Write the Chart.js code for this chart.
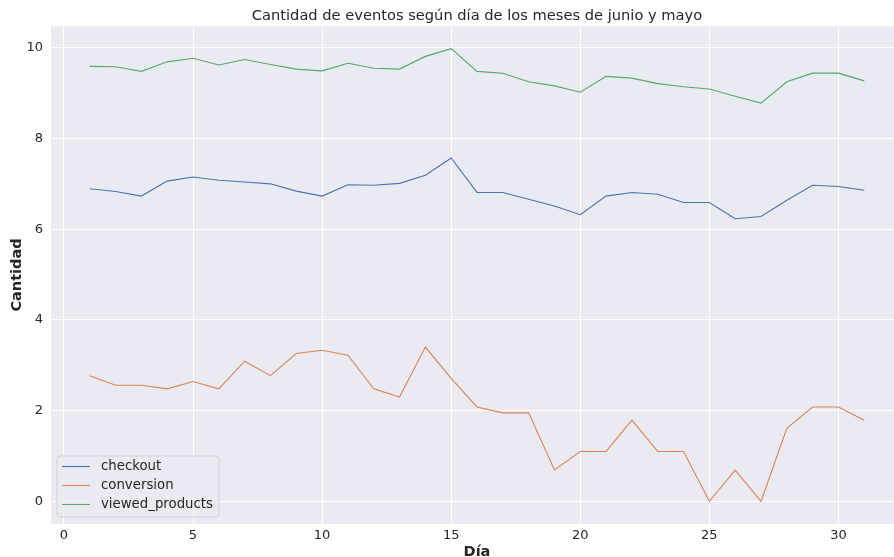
<!DOCTYPE html>
<html>
<head>
<meta charset="utf-8">
<script src="https://cdn.jsdelivr.net/npm/chart.js@4"></script>
<style>
html,body{margin:0;padding:0;background:#fff;overflow:hidden;}
#wrap{width:903px;height:557px;position:relative;}
</style>
</head>
<body>
<div id="wrap"><canvas id="c" width="903" height="557"></canvas></div>
<script>
const chartTitle = "Cantidad de eventos según día de los meses de junio y mayo";
const xTitle = "Día";
const yTitle = "Cantidad";
const days = [1,2,3,4,5,6,7,8,9,10,11,12,13,14,15,16,17,18,19,20,21,22,23,24,25,26,27,28,29,30,31];
const seriesNames = ["checkout","conversion","viewed_products"];
const checkout = [6.89,6.83,6.73,7.06,7.15,7.08,7.04,7.00,6.84,6.73,6.98,6.97,7.01,7.19,7.57,6.81,6.81,6.66,6.51,6.32,6.73,6.81,6.77,6.59,6.59,6.23,6.28,6.64,6.97,6.94,6.86];
const conversion = [2.77,2.56,2.56,2.48,2.64,2.48,3.09,2.77,3.26,3.33,3.22,2.48,2.30,3.40,2.71,2.08,1.95,1.95,0.69,1.10,1.10,1.79,1.10,1.10,0.00,0.69,0.00,1.61,2.08,2.08,1.79];
const viewed = [9.59,9.58,9.48,9.69,9.77,9.62,9.74,9.63,9.53,9.49,9.66,9.55,9.53,9.81,9.98,9.48,9.44,9.25,9.16,9.02,9.37,9.33,9.21,9.14,9.09,8.93,8.78,9.25,9.44,9.44,9.27];
const xTicks = [0,5,10,15,20,25,30];
const yTicks = [0,2,4,6,8,10];
const colors = ["#4c72b0","#dd8452","#55a868"];

const allSeries = [checkout, conversion, viewed];
const datasets = allSeries.map((vals,i)=>({
  label: seriesNames[i],
  data: days.map((d,j)=>({x:d,y:vals[j]})),
  borderColor: colors[i],
  backgroundColor: colors[i],
  borderWidth: 1.1,
  pointRadius: 0,
  tension: 0,
  fill: false
}));

const textColor = "#262626";
const FONT = "'DejaVu Sans', sans-serif";

const customPlugin = {
  id: 'customDecor',
  afterDraw(chart){
    const ctx = chart.ctx;
    const ca = chart.chartArea;
    ctx.save();
    // title
    ctx.fillStyle = textColor;
    ctx.font = "14.65px " + FONT;
    ctx.textAlign = "center";
    ctx.textBaseline = "middle";
    ctx.fillText(chartTitle, (ca.left+ca.right)/2, 16.5);
    // legend
    const bx = 57, by = 456, bw = 162, bh = 61, r = 3;
    ctx.beginPath();
    ctx.moveTo(bx+r,by);
    ctx.lineTo(bx+bw-r,by); ctx.quadraticCurveTo(bx+bw,by,bx+bw,by+r);
    ctx.lineTo(bx+bw,by+bh-r); ctx.quadraticCurveTo(bx+bw,by+bh,bx+bw-r,by+bh);
    ctx.lineTo(bx+r,by+bh); ctx.quadraticCurveTo(bx,by+bh,bx,by+bh-r);
    ctx.lineTo(bx,by+r); ctx.quadraticCurveTo(bx,by,bx+r,by);
    ctx.closePath();
    ctx.fillStyle = "rgba(234,234,242,0.8)";
    ctx.fill();
    ctx.strokeStyle = "rgba(204,204,204,0.8)";
    ctx.lineWidth = 1;
    ctx.stroke();
    ctx.font = "13.3px " + FONT;
    ctx.textAlign = "left";
    chart.data.datasets.forEach((ds,i)=>{
      const yy = 466.5 + i*19;
      ctx.strokeStyle = ds.borderColor;
      ctx.lineWidth = 1.1;
      ctx.beginPath(); ctx.moveTo(62,yy); ctx.lineTo(90,yy); ctx.stroke();
      ctx.fillStyle = textColor;
      ctx.fillText(ds.label, 101, yy);
    });
    ctx.restore();
  }
};

new Chart(document.getElementById('c'), {
  type: 'line',
  data: { datasets },
  options: {
    responsive: false,
    animation: false,
    layout: { padding: { top: 26, right: 0, left: 0, bottom: 0 } },
    plugins: { legend: { display: false }, title: { display: false }, tooltip: { enabled: false } },
    scales: {
      x: {
        type: 'linear',
        min: -0.5, max: 32.5,
        afterBuildTicks(s){ s.ticks = xTicks.map(v=>({value:v})); },
        afterFit(s){ s.height = 33; },
        grid: { color: '#ffffff', lineWidth: 1, drawTicks: false },
        border: { display: false },
        ticks: { color: textColor, font: { family: FONT, size: 13 }, padding: 4, maxRotation: 0 },
        title: { display: true, text: xTitle, color: textColor, font: { family: FONT, size: 14.5, weight: 'bold' }, padding: { top: 4, bottom: -4 } }
      },
      y: {
        type: 'linear',
        min: -0.5, max: 10.48,
        afterBuildTicks(s){ s.ticks = yTicks.map(v=>({value:v})); },
        afterFit(s){ s.width = 51; },
        grid: { color: '#ffffff', lineWidth: 1, drawTicks: false },
        border: { display: false },
        ticks: { color: textColor, font: { family: FONT, size: 13 }, padding: 8 },
        title: { display: true, text: yTitle, color: textColor, font: { family: FONT, size: 14.5, weight: 'bold' }, padding: { top: 9, bottom: 0 } }
      }
    }
  },
  plugins: [{
    id: 'bg',
    beforeDraw(chart){
      const {ctx, chartArea:a} = chart;
      ctx.save(); ctx.fillStyle = '#eaeaf2';
      ctx.fillRect(a.left, a.top, a.right-a.left, a.bottom-a.top);
      ctx.restore();
    }
  }, customPlugin]
});
</script>
</body>
</html>
